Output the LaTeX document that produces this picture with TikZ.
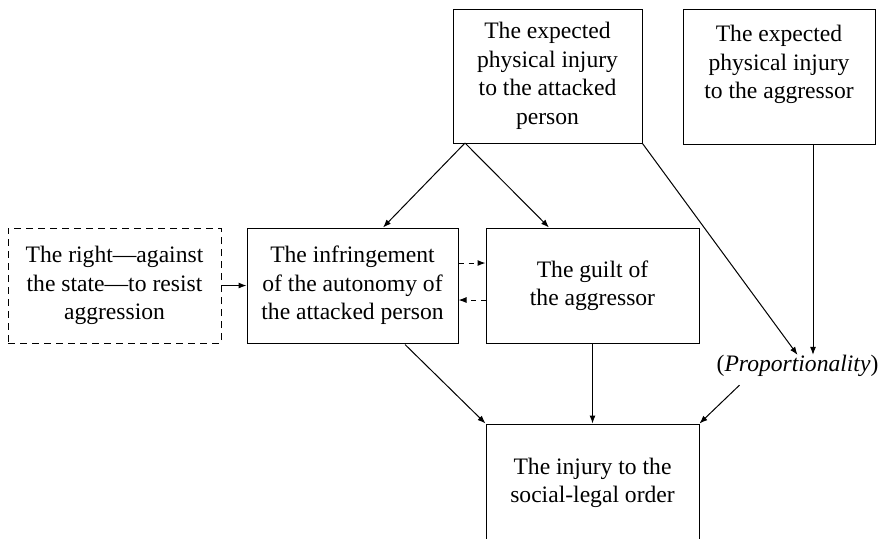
\documentclass[tikz,border=0pt]{standalone}
\usepackage{fontspec}
\setmainfont{Liberation Serif}
\usetikzlibrary{arrows.meta,calc}

\begin{document}
\begin{tikzpicture}[x=0.5pt, y=-0.5pt,
    box/.style={draw=borderColour, line width=0.5pt, align=center, inner sep=0pt,
        font=\fontsize{11.8}{14.25}\selectfont},
    link/.style={draw=borderColour, line width=0.5pt, -{Latex[length=4pt,width=3pt]}},
    dashedlink/.style={link, dash pattern=on 2.5pt off 2.5pt}]
    \definecolor{borderColour}{HTML}{000000}

    \useasboundingbox (0,0) rectangle (882,538);
    \clip (0,0) rectangle (882,538);

    % Draw boxes
    \node[box, minimum width=94.5pt, minimum height=67pt] (attacked) at (547.5,76)
        {The expected\\physical injury\\to the attacked\\person};
    \node[box, minimum width=96pt, minimum height=67.5pt] (aggressor) at (779,76.5)
        {The expected\\physical injury\\to the aggressor\\\mbox{}};
    \node[box, dash pattern=on 3.5pt off 2.5pt, minimum width=106.5pt, minimum height=57.5pt] (right) at (114.5,285.5)
        {The right—against\\the state—to resist\\aggression};
    \node[box, minimum width=105.5pt, minimum height=57.5pt] (infringement) at (352.5,285.5)
        {The infringement\\of the autonomy of\\the attacked person};
    \node[box, minimum width=106.5pt, minimum height=57.5pt] (guilt) at (592.5,285.5)
        {The guilt of\\the aggressor};
    \node[box, minimum width=106.5pt, minimum height=59pt] (injury) at (592.5,483)
        {The injury to the\\social-legal order};
    \node[font=\fontsize{11.8}{14.25}\selectfont, inner sep=0pt] (proportionality) at (797.5,366)
        {(\textit{Proportionality})};

    % Draw connectors
    \coordinate (split) at (465,143);
    \draw[link] (split) -- ($(infringement.north)+(30.5,0)$);
    \draw[link] (split) -- ($(guilt.north)+(-43.5,0)$);
    \draw[link] (attacked.south east) -- (proportionality.north);
    \draw[link] ($(aggressor.south)+(34,0)$) -- ($(proportionality.north)+(15.5,0)$);
    \draw[link] ($(proportionality.south)+(-58,8)$) -- (injury.north east);
    \draw[link] ($(infringement.south)+(52.5,1)$) -- (injury.north west);
    \draw[link] (guilt.south) -- (injury.north);
    \draw[link] (right.east) -- (infringement.west);

    % Dashed connectors between the middle boxes
    \draw[dashedlink] ($(infringement.east)+(0,-22.5)$) -- ($(guilt.west)+(0,-22.5)$);
    \draw[dashedlink] ($(guilt.west)+(0,14.5)$) -- ($(infringement.east)+(0,14.5)$);

\end{tikzpicture}
\end{document}
